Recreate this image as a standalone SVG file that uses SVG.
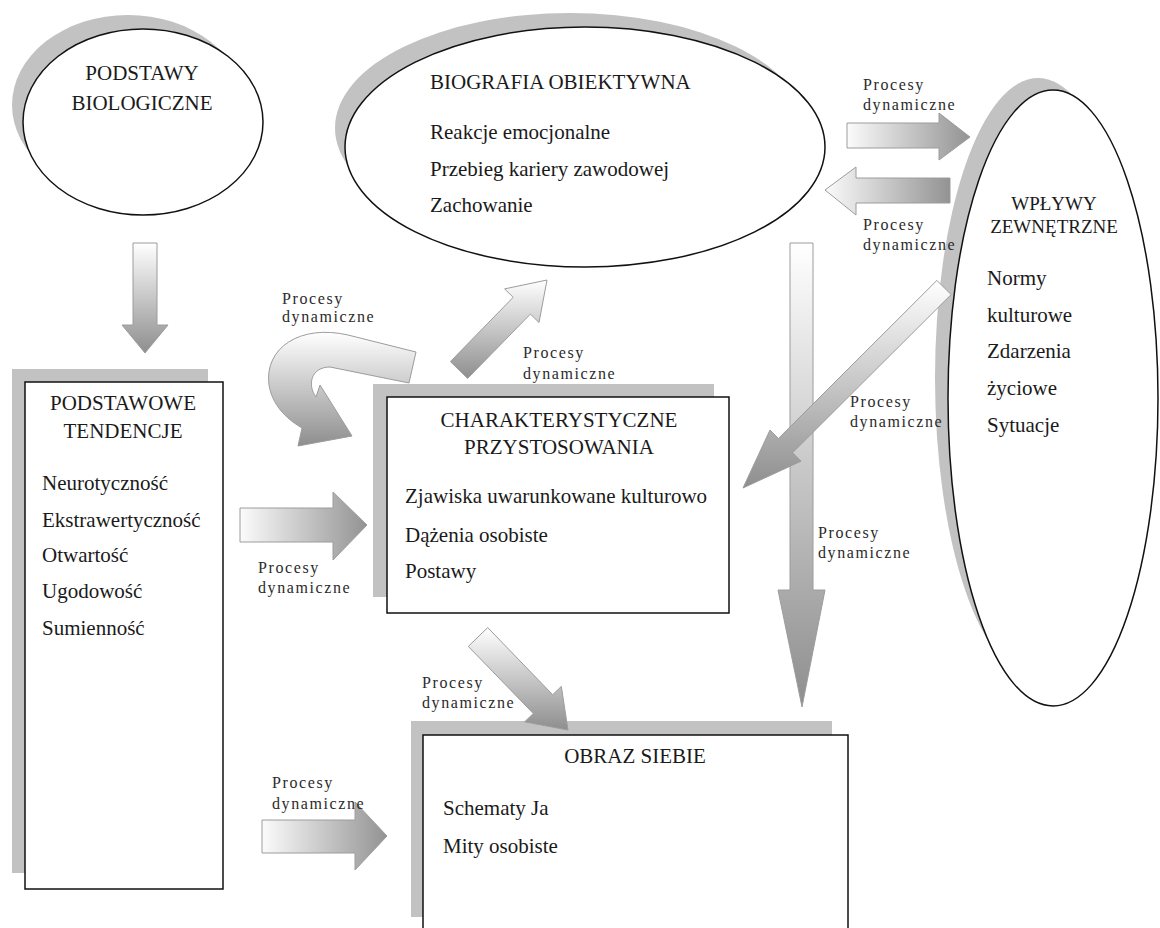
<svg xmlns="http://www.w3.org/2000/svg" width="1160" height="928" viewBox="0 0 1160 928">
<defs>
<linearGradient id="gv" x1="0" y1="0" x2="0" y2="1"><stop offset="0" stop-color="#ffffff"/><stop offset="1" stop-color="#8e8e8e"/></linearGradient>
<linearGradient id="gh" x1="0" y1="0" x2="1" y2="0"><stop offset="0" stop-color="#fbfbfb"/><stop offset="1" stop-color="#939393"/></linearGradient>
</defs>
<style>
.sh{fill:#c2c2c2}
.nd{fill:#ffffff;stroke:#111;stroke-width:1.5}
.t{font-family:"Liberation Serif","Times New Roman",serif;font-size:21px;fill:#1a1a1a}
.h19{font-size:19px}
.c{text-anchor:middle}
.lb{font-family:"Liberation Serif","Times New Roman",serif;font-size:16px;letter-spacing:1.6px;fill:#2a2a2a}
.av{fill:url(#gv);stroke:#9c9c9c;stroke-width:1}
.ah{fill:url(#gh);stroke:#9c9c9c;stroke-width:1}
</style>
<rect width="1160" height="928" fill="#ffffff"/>
<g id="node-podstawy-biologiczne">
<ellipse class="sh" cx="128" cy="105" rx="116" ry="90"/>
<ellipse class="nd" cx="143" cy="122" rx="120" ry="93"/>
<text class="t c" x="142" y="80">PODSTAWY</text>
<text class="t c" x="142" y="110">BIOLOGICZNE</text>
</g>
<g id="node-biografia">
<ellipse class="sh" cx="570" cy="128" rx="235" ry="115"/>
<ellipse class="nd" cx="585" cy="147" rx="240" ry="120"/>
<text class="t" x="430" y="89">BIOGRAFIA OBIEKTYWNA</text>
<text class="t" x="430" y="139">Reakcje emocjonalne</text>
<text class="t" x="430" y="176">Przebieg kariery zawodowej</text>
<text class="t" x="430" y="212">Zachowanie</text>
</g>
<g id="node-wplywy">
<ellipse class="sh" cx="1038" cy="378" rx="103" ry="300"/>
<ellipse class="nd" cx="1053" cy="398" rx="105" ry="308"/>
<text class="t h19 c" x="1054" y="210">WPŁYWY</text>
<text class="t h19 c" x="1054" y="233">ZEWNĘTRZNE</text>
<text class="t" x="987" y="285">Normy</text>
<text class="t" x="987" y="322">kulturowe</text>
<text class="t" x="987" y="358">Zdarzenia</text>
<text class="t" x="987" y="395">życiowe</text>
<text class="t" x="987" y="432">Sytuacje</text>
</g>
<g id="node-podstawowe">
<rect class="sh" x="12" y="369" width="196" height="504"/>
<rect class="nd" x="25" y="382" width="198" height="507"/>
<text class="t c" x="123" y="410">PODSTAWOWE</text>
<text class="t c" x="123" y="438">TENDENCJE</text>
<text class="t" x="42" y="490">Neurotyczność</text>
<text class="t" x="42" y="527">Ekstrawertyczność</text>
<text class="t" x="42" y="562">Otwartość</text>
<text class="t" x="42" y="598">Ugodowość</text>
<text class="t" x="42" y="635">Sumienność</text>
</g>
<g id="node-charakterystyczne">
<rect class="sh" x="373" y="384" width="341" height="213"/>
<rect class="nd" x="387" y="397" width="342" height="216"/>
<text class="t c" x="559" y="427">CHARAKTERYSTYCZNE</text>
<text class="t c" x="559" y="454">PRZYSTOSOWANIA</text>
<text class="t" x="405" y="503">Zjawiska uwarunkowane kulturowo</text>
<text class="t" x="405" y="542">Dążenia osobiste</text>
<text class="t" x="405" y="578">Postawy</text>
</g>
<g id="node-obraz">
<rect class="sh" x="411" y="721" width="421" height="196"/>
<rect class="nd" x="423" y="735" width="425" height="210"/>
<text class="t c" x="635" y="763">OBRAZ SIEBIE</text>
<text class="t" x="443" y="815">Schematy Ja</text>
<text class="t" x="443" y="853">Mity osobiste</text>
</g>
<g id="connectors">
<path class="av" d="M133,243 L157,243 L157,325 L168,325 L145,353 L122,325 L133,325 Z"/>
<path class="ah" d="M240,508 L333,508 L333,492 L367,525 L333,560 L333,542 L240,542 Z"/>
<path class="ah" d="M262,820 L355,820 L355,802 L387,836 L355,870 L355,853 L262,853 Z"/>
<path class="ah" d="M847,123 L939,123 L939,113 L970,137 L939,160 L939,148 L847,148 Z"/>
<path class="ah" d="M950,178 L856,178 L856,167 L825,190 L856,215 L856,203 L950,203 Z"/>
<path class="av" d="M790,243 L813,243 L813,590 L825,590 L802,707 L778,590 L790,590 Z"/>
<path class="av" d="M450.4,361.6 L513.2,297.3 L504.6,288.9 L547,280 L539,322.5 L530.4,314.1 L467.6,378.4 Z"/>
<path class="av" d="M487.7,627.6 L552.7,694.7 L561.3,686.4 L568,730 L524.7,721.8 L533.3,713.5 L468.3,646.4 Z"/>
<path class="av" d="M936.9,280.4 L778.4,438.5 L770,430 L743,488 L801,461.2 L792.6,452.7 L951.1,294.6 Z"/>
<path class="av" d="M416,352 L348,335 C300,324 264,348 269,385 C272,404 285,418 302,428 L298,446 L352,436 L320,385 L316,397 C307,385 311,367 330,367 L409,383 Z"/>
<g id="labels">
<text class="lb" x="863" y="90">Procesy</text><text class="lb" x="863" y="110">dynamiczne</text>
<text class="lb" x="863" y="230">Procesy</text><text class="lb" x="863" y="250">dynamiczne</text>
<text class="lb" x="282" y="304">Procesy</text><text class="lb" x="282" y="322">dynamiczne</text>
<text class="lb" x="523" y="358">Procesy</text><text class="lb" x="523" y="379">dynamiczne</text>
<text class="lb" x="850" y="407">Procesy</text><text class="lb" x="850" y="427">dynamiczne</text>
<text class="lb" x="818" y="538">Procesy</text><text class="lb" x="818" y="558">dynamiczne</text>
<text class="lb" x="258" y="573">Procesy</text><text class="lb" x="258" y="593">dynamiczne</text>
<text class="lb" x="422" y="688">Procesy</text><text class="lb" x="422" y="708">dynamiczne</text>
<text class="lb" x="272" y="788">Procesy</text><text class="lb" x="272" y="809">dynamiczne</text>
</g>
</g>
</svg>
